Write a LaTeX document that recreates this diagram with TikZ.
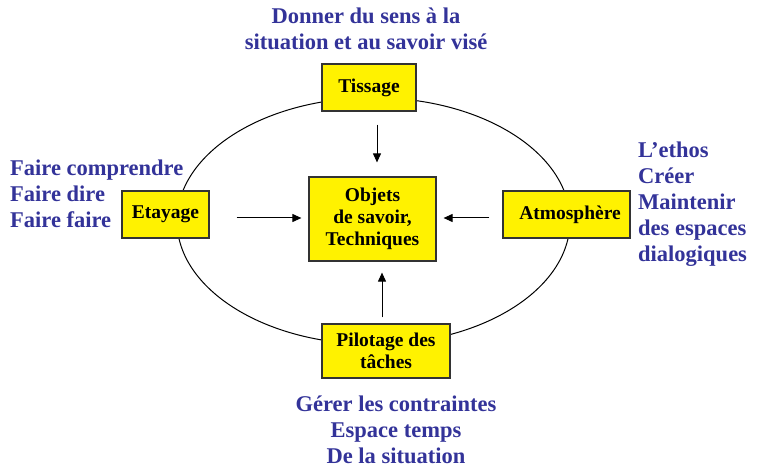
\documentclass[tikz,border=0pt]{standalone}
\usepackage{fontspec}
\setmainfont{Liberation Serif}
\usetikzlibrary{arrows.meta}
\definecolor{labelblue}{RGB}{51,51,153}
\tikzset{
  box/.style={draw=black!80, line width=1.2pt, fill=yellow, align=center, inner sep=0pt,
    font=\fontsize{19.5}{22}\selectfont\bfseries},
  note/.style={text=labelblue, inner sep=0pt, font=\fontsize{22.5}{26}\selectfont\bfseries},
  flow/.style={-{Triangle[length=9pt,width=8pt]}, line width=1pt}
}
\begin{document}
\begin{tikzpicture}[x=1pt,y=-1pt]
    \useasboundingbox (0,0) rectangle (769,473);
    \draw[line width=1pt] (373.5,221) ellipse [x radius=196.5, y radius=123.3];
    \node[box, minimum width=94pt, minimum height=47pt] (tissage) at (369,87.5) {Tissage};
    \node[box, minimum width=127pt, minimum height=84pt] (objets) at (372.5,219) {Objets\\de savoir,\\Techniques};
    \node[box, minimum width=87pt, minimum height=47pt] (etayage) at (165.5,214.5) {Etayage};
    \node[box, minimum width=127pt, minimum height=47pt] (atmosphere) at (566.5,214.5) {\hspace*{7pt}Atmosphère};
    \node[box, minimum width=128pt, minimum height=54pt] (pilotage) at (386,351) {Pilotage des\\tâches};
    \draw[flow, shorten <=13pt, shorten >=14pt] ([xshift=8pt]tissage.south) -- ([xshift=4.5pt]objets.north);
    \draw[flow, shorten <=27pt, shorten >=7pt] ([yshift=-3.5pt]etayage.east) -- ([yshift=1pt]objets.west);
    \draw[flow, shorten <=13pt, shorten >=7pt] ([yshift=-3.5pt]atmosphere.west) -- ([yshift=1pt]objets.east);
    \draw[flow, shorten <=6pt, shorten >=11pt] ([xshift=-4pt]pilotage.north) -- ([xshift=9.5pt]objets.south);
    \node[note, align=center] (sens) at (366,29) {Donner du sens à la\\situation et au savoir visé};
    \node[note, align=left, anchor=west] (faire) at (10,194) {Faire comprendre\\Faire dire\\Faire faire};
    \node[note, align=left, anchor=west] (ethos) at (638,204) {L’ethos\\Créer\\Maintenir\\des espaces\\dialogiques};
    \node[note, align=center] (gerer) at (396,430) {Gérer les contraintes\\Espace temps\\De la situation};
\end{tikzpicture}
\end{document}
